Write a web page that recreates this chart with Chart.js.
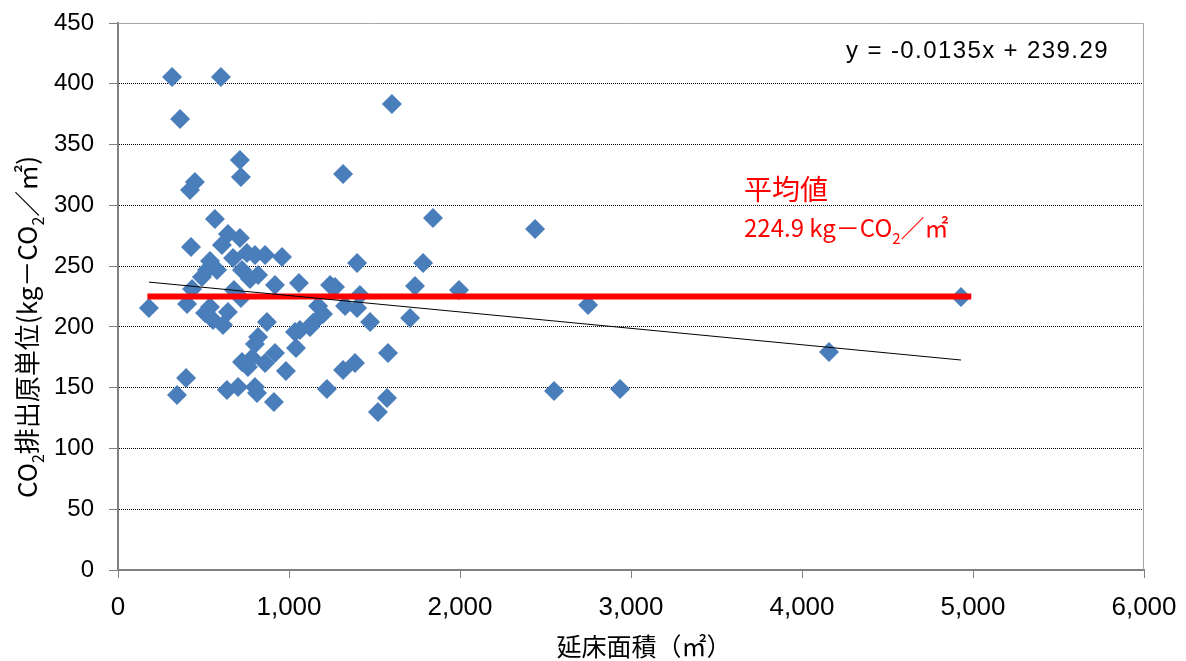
<!DOCTYPE html>
<html>
<head>
<meta charset="utf-8">
<script src="https://cdn.jsdelivr.net/npm/chart.js@4"></script>
<style>
  html, body { margin: 0; padding: 0; background: #fff; }
  .chartContainer { position: relative; width: 1186px; height: 661px; }
</style>
</head>
<body>
<div class="chartContainer"><canvas id="chart" width="1186" height="661"></canvas></div>
<script>
// floor area (m2) and CO2 unit emission (kg-CO2/m2)
const floorArea = [
  181, 316, 363, 345, 398, 404, 427, 421, 450, 433,
  567, 602, 713, 719, 643, 713, 608, 538, 520, 491,
  579, 673, 754, 801, 860, 959, 725, 819, 772, 918,
  1058, 678, 719, 538, 509, 556, 643, 614, 871, 819,
  801, 725, 760, 784, 860, 918, 982, 637, 702, 801,
  813, 912, 1222, 1041, 1035, 1064, 1123, 1140, 1170, 1199,
  1240, 1269, 1316, 1842, 1398, 1784, 1737, 1994, 1415, 1328,
  1398, 1474, 1708, 1316, 1386, 1579, 1573, 1520, 1602, 2439,
  2749, 2550, 2936, 4158, 4930
];
const unitEmission = [
  215.5, 405.6, 371.0, 144.0, 158.0, 218.8, 265.7, 312.6, 319.2, 231.2,
  288.8, 405.6, 337.3, 323.3, 276.4, 273.1, 267.4, 254.2, 246.8, 241.0,
  246.8, 256.7, 260.8, 259.2, 259.2, 257.5, 246.8, 242.7, 239.4, 234.5,
  236.1, 230.4, 223.8, 216.4, 211.4, 205.7, 212.3, 201.6, 204.0, 191.7,
  185.9, 171.1, 167.0, 174.4, 170.3, 178.5, 163.7, 148.1, 150.6, 150.6,
  145.6, 138.2, 148.9, 182.6, 195.8, 197.4, 199.9, 203.2, 217.2, 210.6,
  234.5, 232.8, 325.8, 289.6, 252.6, 252.6, 233.6, 230.4, 226.2, 217.2,
  215.5, 204.0, 207.3, 164.5, 170.3, 178.5, 141.5, 130.0, 383.4, 280.5,
  218.0, 147.3, 148.9, 179.3, 224.6
];

// linear trend shown on the chart
const trendSlope = -0.0135;
const trendIntercept = 239.29;
const trendRange = [181, 4930];

// average line
const averageValue = 224.9;
const averageRange = [172, 4990];

const jpFont = '"Noto Sans CJK JP", "Liberation Sans", sans-serif';
const numFont = '"Liberation Sans", Arial, sans-serif';

const points = floorArea.map((x, i) => ({ x: x, y: unitEmission[i] }));
const trend = trendRange.map(x => ({ x: x, y: trendSlope * x + trendIntercept }));
const average = averageRange.map(x => ({ x: x, y: averageValue }));

// draws text made of parts, some parts as subscript
function drawRich(ctx, parts, x, y, size, family, color) {
  const small = Math.round(size * 0.62);
  let cx = x;
  ctx.fillStyle = color;
  ctx.textAlign = 'left';
  ctx.textBaseline = 'alphabetic';
  parts.forEach(p => {
    ctx.font = (p.sub ? small : size) + 'px ' + family;
    const dy = p.sub ? size * 0.28 : 0;
    ctx.fillText(p.t, cx, y + dy);
    cx += ctx.measureText(p.t).width;
  });
  return cx - x;
}

function measureRich(ctx, parts, size, family) {
  const small = Math.round(size * 0.62);
  let w = 0;
  parts.forEach(p => {
    ctx.font = (p.sub ? small : size) + 'px ' + family;
    w += ctx.measureText(p.t).width;
  });
  return w;
}

const yTitle = [
  { t: 'CO' }, { t: '2', sub: true }, { t: '排出原単位(kg－CO' }, { t: '2', sub: true }, { t: '／㎡)' }
];
const avgLabel = [
  { t: '224.9 kg－CO' }, { t: '2', sub: true }, { t: '／㎡' }
];
const xTitle = '延床面積（㎡）';

// keep the plot area where the reference has it
const noPad = s => {
  s.paddingTop = 0;
  s.paddingBottom = 0;
  s.paddingLeft = 0;
  s.paddingRight = 0;
};

const annotations = {
  id: 'annotations',
  beforeDatasetsDraw(chart) {
    const { ctx, chartArea: a } = chart;
    // plot frame (top and right)
    ctx.save();
    ctx.strokeStyle = '#a6a6a6';
    ctx.lineWidth = 1;
    ctx.beginPath();
    ctx.moveTo(a.left, a.top + 0.5);
    ctx.lineTo(a.right - 0.5, a.top + 0.5);
    ctx.lineTo(a.right - 0.5, a.bottom);
    ctx.stroke();
    ctx.restore();
  },
  afterDraw(chart) {
    const { ctx } = chart;
    ctx.save();
    // y axis title, rotated
    const w = measureRich(ctx, yTitle, 26, jpFont);
    ctx.translate(37, 327);
    ctx.rotate(-Math.PI / 2);
    drawRich(ctx, yTitle, -w / 2, 0, 26, jpFont, '#000');
    ctx.restore();

    ctx.save();
    // x axis title
    ctx.font = '25px ' + jpFont;
    ctx.fillStyle = '#000';
    ctx.textAlign = 'center';
    ctx.textBaseline = 'alphabetic';
    ctx.fillText(xTitle, 644, 656);
    // regression formula
    ctx.textAlign = 'left';
    ctx.font = '24px ' + numFont;
    ctx.letterSpacing = '1.4px';
    ctx.fillText('y = -0.0135x + 239.29', 846, 58);
    ctx.letterSpacing = '0px';
    // average label
    ctx.font = '28px ' + jpFont;
    ctx.fillStyle = '#ff0000';
    ctx.fillText('平均値', 744, 200);
    drawRich(ctx, avgLabel, 744, 237, 24, jpFont, '#ff0000');
    ctx.restore();
  }
};

const ctx = document.getElementById('chart').getContext('2d');
new Chart(ctx, {
  type: 'scatter',
  data: {
    datasets: [
      {
        type: 'line',
        label: 'trend',
        data: trend,
        borderColor: '#000',
        borderWidth: 1,
        pointRadius: 0,
        order: 1
      },
      {
        type: 'line',
        label: 'average',
        data: average,
        borderColor: '#ff0000',
        borderWidth: 6,
        pointRadius: 0,
        order: 2
      },
      {
        label: 'data',
        data: points,
        pointStyle: 'rectRot',
        pointRadius: 10,
        pointHoverRadius: 10,
        backgroundColor: '#4a7ebb',
        borderWidth: 0,
        order: 3
      }
    ]
  },
  options: {
    responsive: false,
    animation: false,
    devicePixelRatio: 1,
    layout: { padding: { left: 0, right: 42, top: 23, bottom: 0 } },
    plugins: {
      legend: { display: false },
      tooltip: { enabled: false }
    },
    scales: {
      x: {
        type: 'linear',
        min: 0,
        max: 6000,
        ticks: {
          stepSize: 1000,
          padding: 14,
          color: '#000',
          font: { family: numFont, size: 26 },
          callback: v => v.toLocaleString('en-US')
        },
        grid: { drawOnChartArea: false, drawTicks: true, tickLength: 8, tickColor: '#808080' },
        border: { color: '#808080', width: 2 },
        afterFit: s => { s.height = 91; noPad(s); }
      },
      y: {
        min: 0,
        max: 450,
        ticks: {
          stepSize: 50,
          padding: 15,
          color: '#000',
          font: { family: numFont, size: 24 }
        },
        grid: {
          color: c => (c.tick.value === 0 || c.tick.value === 450) ? 'rgba(0,0,0,0)' : '#000',
          lineWidth: 1,
          drawTicks: true,
          tickLength: 9,
          tickColor: '#808080'
        },
        border: { color: '#808080', width: 2, dash: [1, 1] },
        afterFit: s => { s.width = 118; noPad(s); }
      }
    }
  },
  plugins: [annotations]
});
</script>
</body>
</html>
